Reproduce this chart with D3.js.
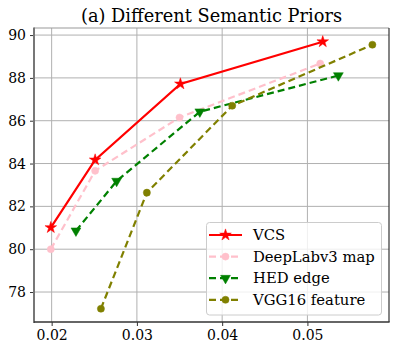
<!DOCTYPE html>
<html>
<head>
<meta charset="utf-8">
<script src="https://cdn.jsdelivr.net/npm/d3@7"></script>
<style>
body { margin: 0; background: #fff; }
svg text { font-family: "DejaVu Serif", serif; fill: #000; }
</style>
</head>
<body>
<svg id="chart" width="397" height="352"></svg>
<script>
var seriesNames = ["VCS", "DeepLabv3 map", "HED edge", "VGG16 feature"];
var vcsX = [0.0199, 0.0251, 0.0351, 0.0518];
var vcsY = [81.01, 84.17, 87.72, 89.69];
var deeplabX = [0.0199, 0.0251, 0.0350, 0.0515];
var deeplabY = [80.0, 83.66, 86.15, 88.67];
var hedX = [0.02285, 0.02762, 0.03738, 0.05363];
var hedY = [80.86, 83.18, 86.42, 88.11];
var vggX = [0.02578, 0.03117, 0.04118, 0.05762];
var vggY = [77.22, 82.64, 86.70, 89.55];
var xTicks = [0.02, 0.03, 0.04, 0.05];
var yTicks = [78, 80, 82, 84, 86, 88, 90];

var series = [
  {name: seriesNames[0], xs: vcsX, ys: vcsY, color: "#ff0000", dash: null, marker: "star"},
  {name: seriesNames[1], xs: deeplabX, ys: deeplabY, color: "#ffc0cb", dash: "7,4", marker: "circle"},
  {name: seriesNames[2], xs: hedX, ys: hedY, color: "#008000", dash: "7,4", marker: "tri"},
  {name: seriesNames[3], xs: vggX, ys: vggY, color: "#808000", dash: "7,4", marker: "circle"}
];

var svg = d3.select("#chart");
var pLeft = 34, pRight = 389, pTop = 28, pBottom = 322;

var x = d3.scaleLinear().domain([0.01793, 0.05957]).range([pLeft, pRight]);
var y = d3.scaleLinear().domain([76.6, 90.33]).range([pBottom, pTop]);

// grid
svg.append("g").selectAll("line").data(xTicks).enter().append("line")
  .attr("x1", function(d) { return x(d); }).attr("x2", function(d) { return x(d); })
  .attr("y1", pTop).attr("y2", pBottom)
  .attr("stroke", "#b0b0b0").attr("stroke-width", 1);
svg.append("g").selectAll("line").data(yTicks).enter().append("line")
  .attr("x1", pLeft).attr("x2", pRight)
  .attr("y1", function(d) { return y(d); }).attr("y2", function(d) { return y(d); })
  .attr("stroke", "#b0b0b0").attr("stroke-width", 1);

// axes
var xAxis = d3.axisBottom(x).tickValues(xTicks).tickFormat(d3.format(".2f")).tickSize(4).tickPadding(4);
var yAxis = d3.axisLeft(y).tickValues(yTicks).tickFormat(d3.format("d")).tickSize(4).tickPadding(4);
var gx = svg.append("g").attr("transform", "translate(0," + pBottom + ")").call(xAxis);
var gy = svg.append("g").attr("transform", "translate(" + pLeft + ",0)").call(yAxis);
[gx, gy].forEach(function(g) {
  g.select(".domain").remove();
  g.selectAll(".tick line").attr("stroke", "#333");
  g.selectAll(".tick text").style("font-size", "14px").style("font-family", "DejaVu Serif").attr("fill", "#000");
});

// spines
svg.append("line").attr("x1", pLeft).attr("x2", pRight).attr("y1", pTop).attr("y2", pTop)
  .attr("stroke", "#999").attr("stroke-width", 1.2);
svg.append("line").attr("x1", pRight).attr("x2", pRight).attr("y1", pTop).attr("y2", pBottom)
  .attr("stroke", "#333").attr("stroke-width", 1.2);
svg.append("line").attr("x1", pLeft).attr("x2", pLeft).attr("y1", pTop - 0.6).attr("y2", pBottom + 1)
  .attr("stroke", "#777").attr("stroke-width", 2);
svg.append("line").attr("x1", pLeft).attr("x2", pRight + 0.6).attr("y1", pBottom).attr("y2", pBottom)
  .attr("stroke", "#333").attr("stroke-width", 1.5);

var star = d3.symbol().type(d3.symbolStar).size(42);
var tri = d3.symbol().type(d3.symbolTriangle).size(42);
var circ = d3.symbol().type(d3.symbolCircle).size(40);

function drawMarker(g, type, cx, cy, color) {
  var p = g.append("path").attr("fill", color).attr("stroke", color).attr("stroke-width", 0.5);
  if (type === "star") p.attr("d", star()).attr("transform", "translate(" + cx + "," + cy + ")");
  else if (type === "tri") p.attr("d", tri()).attr("transform", "translate(" + cx + "," + cy + ") rotate(180)");
  else p.attr("d", circ()).attr("transform", "translate(" + cx + "," + cy + ")");
}

var line = d3.line().x(function(d) { return x(d[0]); }).y(function(d) { return y(d[1]); });

series.forEach(function(s) {
  var pts = s.xs.map(function(v, i) { return [v, s.ys[i]]; });
  var g = svg.append("g");
  g.append("path").datum(pts).attr("d", line)
    .attr("fill", "none").attr("stroke", s.color).attr("stroke-width", 2.2)
    .attr("stroke-dasharray", s.dash);
  pts.forEach(function(p) { drawMarker(g, s.marker, x(p[0]), y(p[1]), s.color); });
});

// title
svg.append("text").attr("x", (pLeft + pRight) / 2).attr("y", 22).attr("text-anchor", "middle")
  .style("font-size", "17.8px").text("(a) Different Semantic Priors");

// legend
var lg = svg.append("g");
lg.append("rect").attr("x", 206.5).attr("y", 222.5).attr("width", 175).attr("height", 92.5)
  .attr("rx", 3).attr("fill", "#fff").attr("fill-opacity", 0.8).attr("stroke", "#ccc").attr("stroke-width", 1);
series.forEach(function(s, i) {
  var yy = 235 + i * 21.6;
  lg.append("line").attr("x1", 209).attr("x2", 242).attr("y1", yy).attr("y2", yy)
    .attr("stroke", s.color).attr("stroke-width", 2.2).attr("stroke-dasharray", s.dash);
  drawMarker(lg, s.marker, 225.5, yy, s.color);
  lg.append("text").attr("x", 253).attr("y", yy + 5).style("font-size", "14.8px").text(s.name);
});
</script>
</body>
</html>
